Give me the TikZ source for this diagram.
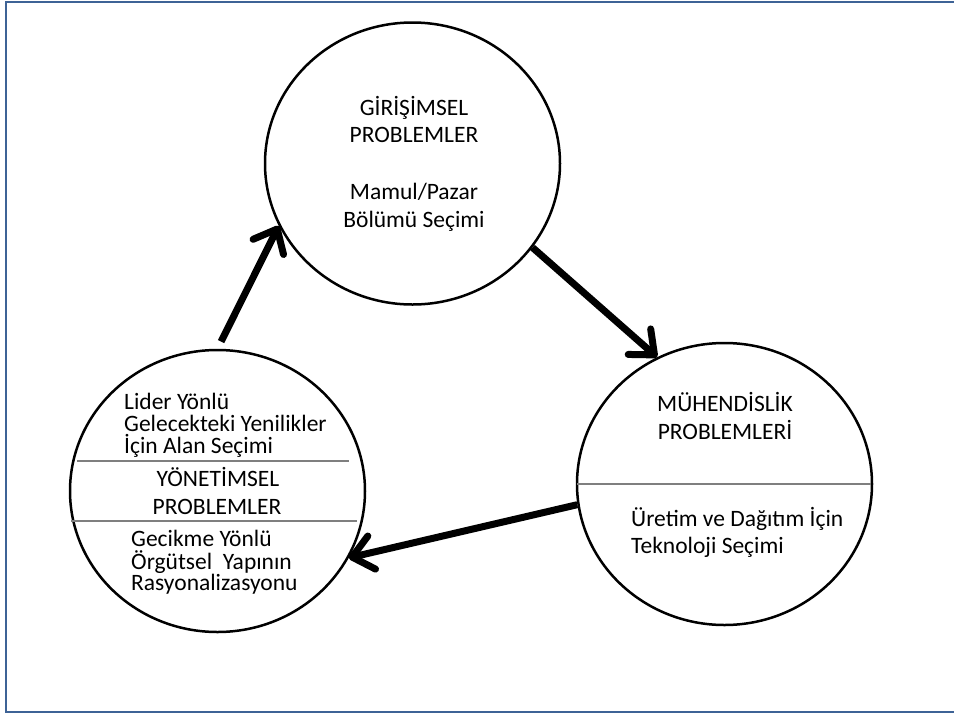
\documentclass[tikz,border=0pt]{standalone}
\usepackage{fontspec}
\setmainfont{Carlito}
\usetikzlibrary{arrows.meta,shapes.geometric}
\definecolor{framecol}{HTML}{3E6396}
\definecolor{sepcol}{HTML}{7F7F7F}
\begin{document}
\begin{tikzpicture}[x=1pt,y=-1pt,
  txt/.style={inner sep=0pt,font=\fontsize{23.5}{28}\selectfont},
  blob/.style={ellipse,draw,line width=2.5pt,minimum width=295pt,minimum height=282pt,inner sep=0pt},
  sepline/.style={draw=sepcol,line width=1.3pt},
  arr/.style={line width=7pt,-{Straight Barb[round,length=20pt,width=34pt]}},
  framepath/.style={draw=framecol,line width=2pt}]
\useasboundingbox (0,0) rectangle (954,713);
\path[framepath] (954,712) -- (6,712) -- (6,2) -- (954,2);

\node[blob] (top) at (412.5,163.5) {};
\node[blob] (left) at (217.5,491) {};
\node[blob] (right) at (724.5,484) {};

% separators
\path[sepline] (77,461) -- (349,461);
\path[sepline] (71,521) -- (357,521);
\path[sepline] (577,484) -- (871,484);

% top texts
\node[txt,anchor=base] (g1) at (414,115) {GİRİŞİMSEL};
\node[txt,anchor=base] (g2) at (414,142) {PROBLEMLER};
\node[txt,anchor=base] (g3) at (414,199) {Mamul/Pazar};
\node[txt,anchor=base] (g4) at (414,227) {Bölümü Seçimi};

% left texts
\node[txt,anchor=base west] (l1) at (124,409) {Lider Yönlü};
\node[txt,anchor=base west] (l2) at (124,431) {Gelecekteki Yenilikler};
\node[txt,anchor=base west] (l3) at (124,453) {İçin Alan Seçimi};
\node[txt,anchor=base] (l4) at (218,486) {YÖNETİMSEL};
\node[txt,anchor=base] (l5) at (217,514) {PROBLEMLER};
\node[txt,anchor=base west] (l6) at (131,546) {Gecikme Yönlü};
\node[txt,anchor=base west] (l7) at (131,569) {Örgütsel\ \ Yapının};
\node[txt,anchor=base west] (l8) at (131,590) {Rasyonalizasyonu};

% right texts
\node[txt,anchor=base] (r1) at (725,411) {MÜHENDİSLİK};
\node[txt,anchor=base] (r2) at (725,439) {PROBLEMLERİ};
\node[txt,anchor=base west] (r3) at (631,526) {Üretim ve Dağıtım İçin};
\node[txt,anchor=base west] (r4) at (631,553) {Teknoloji Seçimi};

% arrows
\draw[arr,shorten <=8pt] (left.90) -- (top.205);
\draw[arr] (top.-35) -- (right.118);
\draw[arr] (right.188) -- (left.-27);
\end{tikzpicture}
\end{document}
